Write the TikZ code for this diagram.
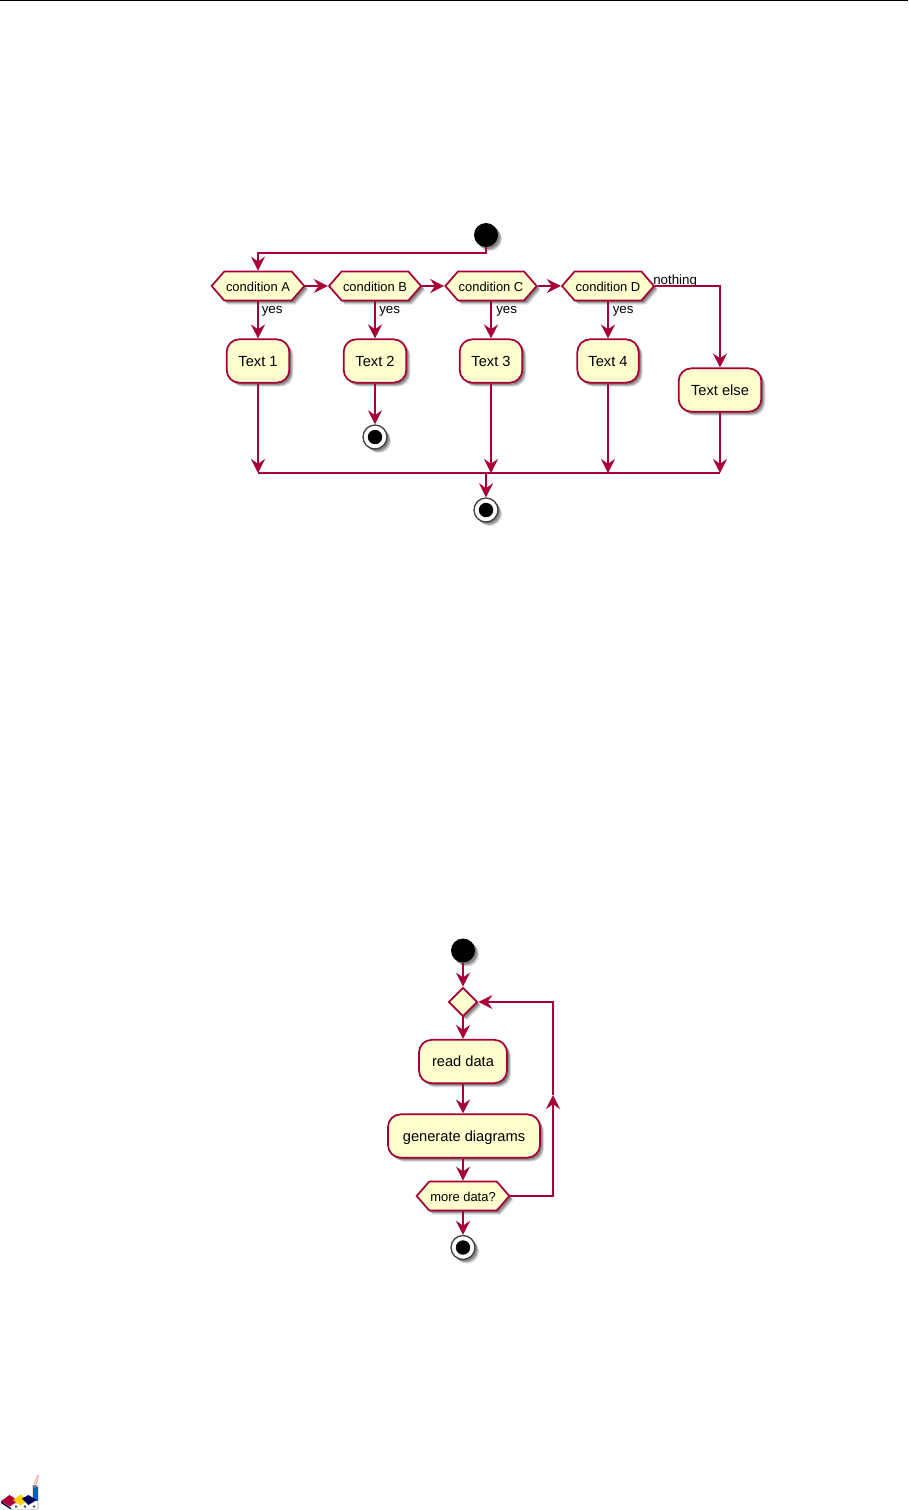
\documentclass[tikz,border=0pt]{standalone}
\usepackage{fontspec}
\setmainfont{Liberation Sans}
\usetikzlibrary{arrows.meta,shapes.geometric,shapes.symbols,shadows}
\definecolor{umlline}{HTML}{A80036}
\definecolor{umlfill}{HTML}{FEFECE}
\tikzset{
  softshadow/.style={
    general shadow={shadow xshift=1.4pt,shadow yshift=-1.4pt,fill=black,opacity=.22},
    general shadow={shadow xshift=2.2pt,shadow yshift=-2.2pt,fill=black,opacity=.22},
    general shadow={shadow xshift=3pt,shadow yshift=-3pt,fill=black,opacity=.14}},
  flow/.style={draw=umlline,line width=1.5pt,-{Stealth[length=10.5pt,width=10.5pt,inset=3.6pt]}},
  plainflow/.style={draw=umlline,line width=1.5pt},
  hexbox/.style={shape=signal,signal to=east and west,signal pointer angle=98,draw=umlline,fill=umlfill,
    line width=1.3pt,inner sep=0pt,minimum height=21.75pt,text height=8.3pt,text depth=0pt,
    font=\fontsize{9.7pt}{11pt}\selectfont,softshadow},
  actbox/.style={rectangle,rounded corners=9.5pt,draw=umlline,fill=umlfill,line width=1.3pt,inner sep=0pt,
    minimum height=32.5pt,text height=7.5pt,text depth=0pt,font=\fontsize{11pt}{12pt}\selectfont,softshadow},
  startdot/.style={circle,fill=black,inner sep=0pt,minimum size=18pt,softshadow},
  stopdot/.style={circle,draw=black!75,line width=1pt,fill=white,inner sep=0pt,minimum size=18pt,softshadow,
    path picture={\fill[black] (path picture bounding box.center) circle (5.4pt);}},
  merge/.style={shape=diamond,draw=umlline,fill=umlfill,line width=1.3pt,inner sep=0pt,minimum width=21.75pt,minimum height=21.75pt,softshadow},
  lab/.style={anchor=west,inner sep=0pt,text depth=0pt,font=\fontsize{10pt}{11pt}\selectfont},
}
\begin{document}
\begin{tikzpicture}[x=0.75pt,y=-0.75pt]
\useasboundingbox (0,0) rectangle (908,1510);
\fill[white] (0,0) rectangle (908,1510);
\draw[black,line width=.75pt] (0,0.6) -- (908,0.6);

% first diagram
\node[startdot] (s1) at (486,235) {};
\node[hexbox,minimum width=69.5pt] (ca) at (258,286) {condition A};
\node[hexbox,minimum width=69pt] (cb) at (375,286) {condition B};
\node[hexbox,minimum width=68.5pt] (cc) at (491,286) {condition C};
\node[hexbox,minimum width=69pt] (cd) at (608,286) {condition D};
\node[actbox,minimum width=47pt] (t1) at (258,361) {Text 1};
\node[actbox,minimum width=47pt] (t2) at (375,361) {Text 2};
\node[actbox,minimum width=47pt] (t3) at (491,361) {Text 3};
\node[actbox,minimum width=46pt] (t4) at (608,361) {Text 4};
\node[actbox,minimum width=62pt] (te) at (720,390) {Text else};
\node[stopdot] (e2) at (375,437) {};
\node[stopdot] (e1) at (486,510) {};
\node[lab] (ya) at (261.5,310) {yes};
\node[lab] (yb) at (379,310) {yes};
\node[lab] (yc) at (496,310) {yes};
\node[lab] (yd) at (612.5,310) {yes};
\node[lab] (no) at (653,279.5) {nothing};
\coordinate (m1) at (258,473);
\coordinate (m3) at (491,473);
\coordinate (m4) at (608,473);
\coordinate (m5) at (720,473);
\coordinate (m0) at (486,473);
\coordinate (be) at (720,286);
\draw[plainflow] (m1) -- (m5);
\draw[flow] (s1.south) -- ++(0,5.5) -| (ca.north);
\draw[flow] (ca.east) -- (cb.west);
\draw[flow] (cb.east) -- (cc.west);
\draw[flow] (cc.east) -- (cd.west);
\draw[flow] (ca.south) -- (t1.north);
\draw[flow] (cb.south) -- (t2.north);
\draw[flow] (cc.south) -- (t3.north);
\draw[flow] (cd.south) -- (t4.north);
\draw[flow] (cd.east) -- (be) -- (te.north);
\draw[flow] (t2.south) -- (e2.north);
\draw[flow] (t1.south) -- (m1);
\draw[flow] (t3.south) -- (m3);
\draw[flow] (t4.south) -- (m4);
\draw[flow] (te.south) -- (m5);
\draw[flow] (m0) -- (e1.north);

% second diagram
\node[startdot] (s2) at (463,950.5) {};
\node[merge] (dm) at (463,1002) {};
\node[actbox,minimum width=66pt] (rd) at (463,1061.5) {read data};
\node[actbox,minimum width=114pt] (gd) at (464,1136) {generate diagrams};
\node[hexbox,minimum width=69.5pt] (md) at (463,1196) {more data?};
\node[stopdot] (e3) at (463,1247.5) {};
\coordinate (lb) at (553,1196);
\coordinate (lt) at (553,1002);
\coordinate (lm) at (553,1095);
\draw[flow] (s2.south) -- (dm.north);
\draw[flow] (dm.south) -- (rd.north);
\draw[flow] (rd.south) -- (gd.north -| rd);
\draw[flow] (gd.south -| rd) -- (md.north);
\draw[flow] (md.south) -- (e3.north);
\draw[flow] (md.east) -- (lb) -- (lm);
\draw[flow] (lm) -- (lt) -- (dm.east);

% logo
\begin{scope}
\fill[white,draw=gray!70,line width=.4pt] (6,1505) -- (11,1509) -- (38,1509) -- (38,1487) -- (33,1487) -- (33,1500) -- cycle;
\fill[blue!55!cyan!80!black] (32.5,1487) rectangle (37.5,1501);
\fill[gray] (32,1486) -- (35,1484.5) -- (38,1486) -- (35,1488) -- cycle;
\fill[blue!30!black] (1,1501) -- (11,1508) -- (11,1509.5) -- (1,1503) -- cycle;
\fill[purple!90!black] (1,1501) -- (9.5,1495) -- (18,1500.5) -- (10,1506.5) -- cycle;
\fill[yellow!70!orange] (13,1500) -- (20.5,1494.5) -- (28,1500) -- (20.5,1505.5) -- cycle;
\fill[blue!35!black] (22,1498.5) -- (28.5,1495) -- (36.5,1500) -- (28.5,1505) -- cycle;
\fill[black!70] (16,1506.5) circle (1pt) (25,1506.5) circle (1pt) (34,1506.5) circle (1pt);
\draw[red!70!white,line width=.5pt] (38.5,1475) .. controls (35,1479) and (39,1480) .. (36,1484);
\draw[red!50!white,line width=.4pt] (36,1479) .. controls (34,1481) and (35,1482) .. (34.5,1484);
\end{scope}
\end{tikzpicture}
\end{document}
